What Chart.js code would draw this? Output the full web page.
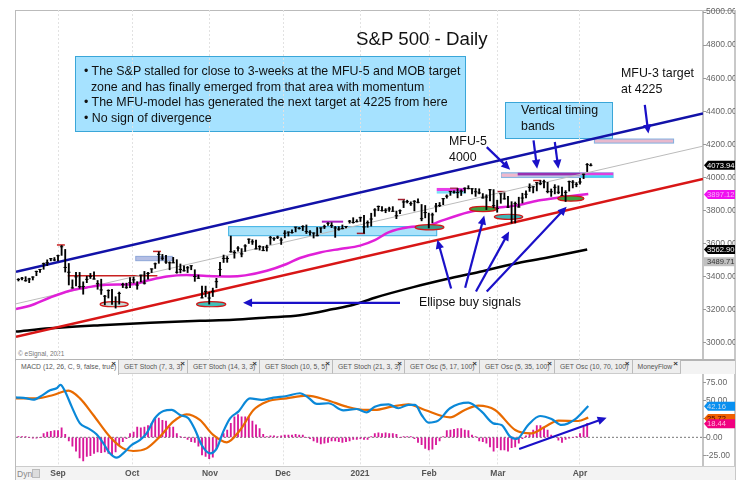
<!DOCTYPE html>
<html><head><meta charset="utf-8">
<script src="https://cdn.jsdelivr.net/npm/chart.js@4"></script>
<style>
html,body{margin:0;padding:0;background:#fff;width:751px;height:494px;overflow:hidden;font-family:"Liberation Sans",Arial,sans-serif}
#stage{position:relative;width:751px;height:494px}
.a{position:absolute;white-space:nowrap}
canvas{position:absolute;left:0;z-index:5}
.note{color:#111;font-size:12.4px;line-height:15.6px;z-index:6}
.box{position:absolute;background:#a6e2ff;border:1px solid #3aa6d8;box-sizing:border-box}
.tab{position:absolute;top:360px;height:14px;background:#eee;border-right:1px solid #bbb;border-bottom:1px solid #ccc;box-sizing:border-box;font-size:6.8px;color:#555;line-height:14px;padding-left:5px;white-space:nowrap;overflow:hidden}
.tab b{position:absolute;right:2px;top:-3px;font-size:8px;color:#333}
</style></head><body><div id="stage">
<div class="a" style="left:15px;top:10px;width:720px;height:470px;border:1px solid #bbb;box-sizing:border-box"></div>
<div class="a" style="left:702px;top:10px;width:2px;height:456px;background:#c4c4c4"></div>
<div class="a" style="left:734px;top:10px;width:2px;height:470px;background:#c8c8c8"></div>
<div class="a" style="left:15px;top:359px;width:720px;height:2px;background:#b4b4b4"></div>
<div class="a" style="left:16px;top:466px;width:719px;height:14px;background:#f3f3f3;border-top:1px solid #ccc;box-sizing:border-box"></div>
<div class="a" style="left:16px;top:361px;width:719px;height:13px;background:#f3f3f3"></div>
<div id="tabs"></div>
<div class="a" style="left:17px;top:469px;font-size:8.5px;color:#888">Dyn</div>
<div class="a" style="left:32px;top:469px;width:8px;height:9px;background:#ddd;border:1px solid #bbb;box-sizing:border-box"></div>
<div class="a" style="left:18px;top:350px;font-size:6.5px;color:#777">© eSignal, 2021</div>
<div class="a note" style="left:356px;top:28px;font-size:18.7px;line-height:normal">S&amp;P 500 - Daily</div>
<div class="box" style="left:75px;top:56px;width:391px;height:76px"></div>
<div class="a note" style="left:84px;top:64px">• The S&amp;P stalled for close to 3-weeks at the MFU-5 and MOB target<br>&nbsp;&nbsp;zone and has finally emerged from that area with momentum<br>• The MFU-model has generated the next target at 4225 from here<br>• No sign of divergence</div>
<div class="box" style="left:505px;top:102px;width:108px;height:37px"></div>
<div class="a note" style="left:521px;top:103px">Vertical timing<br>bands</div>
<div class="a note" style="left:449px;top:134px">MFU-5<br>4000</div>
<div class="a note" style="left:621px;top:66px">MFU-3 target<br>at 4225</div>
<div class="a note" style="left:419px;top:295px">Ellipse buy signals</div>
<canvas id="main" width="751" height="365" style="top:0"></canvas>
<canvas id="osc" width="751" height="134" style="top:360px"></canvas>
</div>
<script>
// ---- axes
const monthSessions=[12,32.6,54.2,74.5,95.9,115.1,134.2,157];
const monthLabels=['Sep','Oct','Nov','Dec','2021','Feb','Mar','Apr'];
const priceTicks=[3000,3200,3400,3600,3800,4000,4200,4400,4600,4800,5000];
const oscTicks=[-25,0,25,50,75];
// ---- daily price bars, one per session starting at session 1
const lows=[3373,3379,3371,3363,3379,3405,3425,3444,3466,3495,3495,3494,3528,3427,3349,3329,3343,3329,3293,3363,3388,3384,3323,3292,3229,3270,3232,3209,3233,3333,3328,3332,3361,3323,3367,3354,3384,3424,3449,3480,3500,3480,3441,3483,3420,3422,3433,3424,3441,3371,3388,3270,3277,3233,3279,3332,3405,3485,3486,3547,3511,3553,3519,3552,3600,3594,3567,3560,3556,3554,3594,3619,3629,3594,3634,3645,3662,3670,3687,3678,3660,3650,3633,3646,3666,3690,3710,3696,3637,3680,3688,3694,3723,3723,3730,3733,3663,3698,3705,3764,3798,3795,3786,3794,3794,3750,3780,3817,3845,3830,3797,3845,3737,3755,3694,3725,3791,3823,3835,3874,3891,3905,3876,3890,3906,3930,3900,3885,3900,3874,3805,3858,3815,3789,3843,3868,3817,3723,3724,3819,3845,3876,3915,3906,3918,3955,3936,3906,3885,3900,3901,3889,3854,3917,3936,3943,3959,3992,4035,4069];
const highs=[3388,3395,3399,3390,3399,3433,3444,3482,3501,3510,3515,3530,3588,3564,3479,3380,3425,3425,3368,3402,3419,3429,3376,3384,3286,3320,3323,3278,3306,3360,3360,3393,3397,3369,3409,3431,3426,3447,3482,3550,3534,3528,3489,3516,3502,3476,3465,3461,3466,3441,3409,3342,3342,3305,3330,3389,3486,3530,3521,3645,3557,3581,3569,3593,3628,3623,3620,3587,3582,3590,3643,3635,3645,3634,3678,3670,3683,3699,3697,3708,3712,3678,3665,3697,3695,3711,3726,3726,3703,3702,3712,3703,3740,3756,3744,3760,3770,3737,3783,3811,3827,3824,3811,3820,3823,3796,3804,3860,3862,3852,3860,3870,3836,3830,3784,3784,3843,3848,3872,3894,3916,3918,3932,3925,3937,3950,3932,3933,3931,3902,3895,3928,3926,3862,3901,3906,3886,3853,3851,3880,3904,3918,3961,3944,3969,3981,3984,3970,3930,3956,3949,3942,3920,3978,3981,3969,3994,4020,4084,4083];
const closes=[3382,3390,3375,3385,3397,3431,3443,3478,3484,3508,3500,3526,3580,3455,3426,3331,3398,3339,3340,3383,3401,3385,3357,3319,3281,3315,3236,3246,3298,3351,3335,3363,3380,3348,3408,3360,3419,3446,3477,3534,3511,3488,3483,3483,3426,3443,3435,3453,3465,3400,3390,3271,3310,3270,3310,3369,3443,3510,3509,3550,3545,3572,3537,3585,3626,3610,3567,3582,3557,3577,3635,3629,3638,3621,3662,3669,3666,3699,3692,3702,3672,3668,3663,3647,3694,3701,3722,3709,3694,3687,3690,3703,3735,3727,3732,3756,3700,3726,3748,3803,3824,3799,3801,3809,3795,3768,3798,3851,3853,3841,3855,3849,3750,3787,3714,3773,3826,3830,3871,3886,3915,3911,3909,3916,3934,3932,3931,3913,3906,3876,3881,3925,3829,3811,3901,3870,3820,3768,3841,3821,3875,3898,3939,3943,3968,3962,3974,3915,3913,3940,3910,3889,3909,3974,3971,3958,3972,4019,4077,4073];
// ---- moving averages
const magentaAt=[0.33,4.2,9.8,15.3,20,25.5,32.9,36.6,42.2,47.8,53.3,59.8,64,70,75.5,79.2,84.8,90.3,95.9,100,103.8,109.3,114.9,118.6,126,133.4,139,145.4,151.9,159.3];
const magentaMA=[3203,3223,3273,3314,3334,3350,3354,3374,3400,3409,3403,3400,3407,3435,3476,3512,3546,3567,3587,3620,3667,3698,3708,3738,3789,3815,3829,3860,3880,3900];
const blackAt=[0.33,9.8,23.7,37.6,51.4,60.7,70,79.2,88.5,94.1,100,110.7,120,129.2,138.5,147.7,159];
const blackMA=[3067,3087,3106,3121,3132,3138,3152,3166,3203,3229,3272,3336,3385,3429,3476,3514,3564];
// ---- channel lines (session, price at each end)
const channelEnds=[0.33,191.17];
const blueChannel=[3429,4386];
const redChannel=[3035,3991];
const grayChannel=[3235,4189];
// ---- MACD pane
const macdAt=[0.33,3.3,5.1,7.5,9.8,11.6,12.7,13.9,15.8,18.1,20.4,22.7,24.6,26.4,28.3,30.1,32.5,34.8,36.6,38.9,41.3,43.6,45.9,48.2,50.1,51.9,54.2,56.1,57.9,59.8,62.1,65.3,68.6,71.8,75.5,79.2,81.5,83.9,87.1,91.3,95,97.7,100,103.8,106.5,109.3,111.2,113,114.9,117.6,120.9,126,129.7,132.9,135.2,137.6,139.4,142.6,145.9,149.1,151.9,155.6,159.3];
const macdLine=[54.4,53,51.2,56.7,63.9,66.7,71.2,63,41.7,19,12.2,4.1,-8.2,-21.8,-27.7,-21.8,-10.4,-3.6,5.4,25.9,35.8,37.2,30.4,25.9,10,-10.4,-21.8,-15,7.7,25.9,34.9,53,50.8,54,56.2,59.9,54,45.4,46.3,36.7,38.5,34,41.7,44.9,39.5,44,44,30.4,20,22.7,39.5,47.2,34.9,19,16.8,0.9,-2.3,16.8,29,24.9,16.8,24.5,42.6];
const signalAt=[0.33,6.1,10.7,14.9,18.1,21.8,26.4,30.1,32.9,36.6,40.3,44,47.7,51.4,55.1,58.9,62.6,66.3,70,75.5,81.1,86.6,92.2,97.7,100,104.7,109.3,113.9,120.9,125,128.8,133.4,139,143.5,147.3,151,156.5,159.3];
const signalLine=[53,53,57.6,63.5,53,30.4,0.9,-15,-18.6,-15,0.9,21.3,31.3,23.6,3.2,-6.8,10,37.2,48.5,53,56.7,50.8,41.7,37.2,37.2,41.7,44.9,37.2,27.2,37.2,43.1,37.2,10,5.4,14.5,22.7,22.2,26.8];
const histogram=[1,1,1,0,-1,-1,0,5,7,8,9,9,13,4,-5,-12,-19,-28,-32,-26,-25,-22,-20,-21,-20,-22,-24,-20,-10,-6,-2,5,7,14,13,14,16,19,25,26,23,22,14,14,5,1,0,-3,-6,-7,-12,-24,-26,-29,-27,-15,-3,5,10,19,28,31,28,28,28,22,17,12,4,1,2,2,1,2,3,3,3,4,3,3,0,-2,-5,-7,-9,-8,-7,-5,-5,-6,-7,-6,-5,-3,-3,-2,-3,-3,1,5,6,5,6,5,5,4,0,1,1,1,-2,-7,-10,-15,-17,-16,-10,-5,1,9,10,11,12,12,10,9,3,1,-5,-6,-8,-13,-19,-14,-17,-17,-19,-14,-13,-8,-2,2,5,10,16,16,13,10,3,1,-4,-7,-3,-1,0,1,5,14,19];
// ---- annotations: [session from, session to, price top, price bottom, fill, stroke]
const zones=[
 [59.4,117.2,3702,3647,'#a8e2fa','#3cb0e4'],
 [33.6,43.75,3522,3496,'#b4bee4','#8ea6d8'],
 [117.2,125.3,3936,3917,'#e83ce8',null],
 [117.2,125.3,3917,3902,'#7adcf8',null],
 [135.2,166.2,4028,3999,'#b8c4e4','#86b4e0'],
 [135.2,139.7,4022,4004,'#f0b8cc',null],
 [139.7,157,4028,4012,'#9a30b0',null],
 [157,166.2,4028,4012,'#e040e0',null],
 [157,166.2,4012,3999,'#40d8f8',null],
 [161,183,4232,4207.5,'#e8b8cc','#80b0e0']
];
// [session from, session to, price, colour, width]
const levels=[
 [14.7,39.6,3405,'#c82020',1.5],[85.3,91.2,3732,'#a820c0',2],
 [11.7,13.9,3591,'#c82020',1.5],[38.4,40.6,3552,'#c82020',1.5],[95,97.3,3661,'#a02030',1.5],
 [106.4,108.4,3866,'#a02030',1.5],[120.9,123.1,3934,'#b03060',1.5],[134.1,136.3,3914,'#a02030',1.5],[144,146.2,3981,'#c82020',1.5]
];
// [session from, session to, price, fill]
const ellipses=[
 [23.7,31.5,3233,'#c8dcd8'],[50.5,58.6,3233,'#40c0b8'],[111.2,119.2,3698,'#3c9c8c'],
 [126.3,133.8,3809,'#40a040'],[133.2,141.1,3761,'#40b8b8'],[150.8,158.1,3872,'#40a040']
];
// [session from, value from, session to, value to]
const priceArrows=[
 [107,3241,63.4,3241],[175,4438,176,4265],[144.1,4224,145.1,4052],[150,4214,151,4052],[131.1,4183,137.6,4046],
 [121.2,3328,117.4,3623],[125.1,3332,130.4,3769],[128.1,3309,137.3,3672],[131.1,3309,153.3,3823]
];
const oscArrows=[[140.1,-15.9,164.4,26.7]];
const priceTags=[[4073.94,'4073.94','#000','#fff',1],[3897.12,'3897.12','#f010f0','#f8b0f8',1],[3562.90,'3562.90','#000','#fff',1],[3489.71,'3489.71','#c0c0c0','#333',0]];
const oscTags=[[42.16,'42.16','#0a90f0','#cde',1],[25.72,'25.72','#f06000','#400',1],[18.44,'18.44','#f00080','#fbd',1]];
const tabNames=[['MACD (12, 26, C, 9, false, true)',16,119],['GET Stoch (7, 3, 3)',119,188],['GET Stoch (14, 3, 3)',188,260],['GET Stoch (10, 5, 5)',260,333],['GET Stoch (21, 3, 3)',333,405],['GET Osc (5, 17, 100)',405,480],['GET Osc (5, 35, 100)',480,555],['GET Osc (10, 70, 100)',555,632.5],['MoneyFlow',632.5,681]];

tabNames.forEach((t,i)=>{const d=document.createElement('div');d.className='tab';d.style.left=t[1]+'px';d.style.width=(t[2]-t[1])+'px';
 if(i===0){d.style.background='#fff';d.style.borderBottom='none';d.style.height='15px';}
 d.textContent=t[0];const b=document.createElement('b');b.textContent='×';d.appendChild(b);document.getElementById('tabs').appendChild(d);});

const zip=(xs,ys)=>xs.map((x,i)=>({x,y:ys[i]}));
const sessions=closes.map((_,i)=>i+1);
const XMIN=0.33,XMAX=191.17;

function arrowHead(ctx,x0,y0,x1,y1,c){
 const a=Math.atan2(y1-y0,x1-x0),L=9,W=4.2;
 ctx.strokeStyle=c;ctx.lineWidth=2.2;ctx.beginPath();ctx.moveTo(x0,y0);ctx.lineTo(x1-Math.cos(a)*L*.7,y1-Math.sin(a)*L*.7);ctx.stroke();
 ctx.fillStyle=c;ctx.beginPath();ctx.moveTo(x1,y1);
 ctx.lineTo(x1-Math.cos(a)*L+Math.sin(a)*W,y1-Math.sin(a)*L-Math.cos(a)*W);
 ctx.lineTo(x1-Math.cos(a)*L-Math.sin(a)*W,y1-Math.sin(a)*L+Math.cos(a)*W);ctx.closePath();ctx.fill();
}
function drawTags(chart,tags){
 const {ctx,scales:{y}}=chart,L=704,R=735;
 ctx.save();ctx.font='7.6px "Liberation Sans"';ctx.textBaseline='middle';ctx.textAlign='left';
 tags.forEach(t=>{const py=y.getPixelForValue(t[0]);ctx.fillStyle=t[2];ctx.beginPath();
  ctx.moveTo(R,py-4.5);ctx.lineTo(L+(t[4]?4:0),py-4.5);ctx.lineTo(L,py);ctx.lineTo(L+(t[4]?4:0),py+4.5);ctx.lineTo(R,py+4.5);ctx.closePath();ctx.fill();
  ctx.fillStyle=t[3];ctx.fillText(t[1],707,py+.5);});
 ctx.restore();
}
const mainDecor={id:'mainDecor',
 beforeDatasetsDraw(c){const {ctx,scales:{x,y}}=c;ctx.save();
  zones.forEach(z=>{const l=x.getPixelForValue(z[0]),r=x.getPixelForValue(z[1]),t=y.getPixelForValue(z[2]),b=y.getPixelForValue(z[3]);
   ctx.fillStyle=z[4];ctx.fillRect(l,t,r-l,b-t);if(z[5]){ctx.strokeStyle=z[5];ctx.lineWidth=1;ctx.strokeRect(l,t,r-l,b-t);}});
  levels.forEach(v=>{const py=y.getPixelForValue(v[2]);ctx.strokeStyle=v[3];ctx.lineWidth=v[4];ctx.beginPath();ctx.moveTo(x.getPixelForValue(v[0]),py);ctx.lineTo(x.getPixelForValue(v[1]),py);ctx.stroke();});
  ctx.restore();},
 beforeDatasetDraw(c,args){if(args.index!==0)return;const {ctx,scales:{x,y}}=c;ctx.save();
  ellipses.forEach(e=>{const l=x.getPixelForValue(e[0]),r=x.getPixelForValue(e[1]),py=y.getPixelForValue(e[2]);
   ctx.beginPath();ctx.ellipse((l+r)/2,py,(r-l)/2,2.6,0,0,7);ctx.fillStyle=e[3];ctx.fill();ctx.strokeStyle='#d01818';ctx.lineWidth=1.2;ctx.stroke();});
  ctx.restore();},
 afterDatasetsDraw(c){const {ctx,scales:{x,y}}=c;ctx.save();
  priceArrows.forEach(a=>arrowHead(ctx,x.getPixelForValue(a[0]),y.getPixelForValue(a[1]),x.getPixelForValue(a[2]),y.getPixelForValue(a[3]),'#1a10c8'));
  ctx.restore();drawTags(c,priceTags);}
};
const oscDecor={id:'oscDecor',afterDatasetsDraw(c){const {ctx,scales:{x,y}}=c;ctx.save();
  oscArrows.forEach(a=>arrowHead(ctx,x.getPixelForValue(a[0]),y.getPixelForValue(a[1]),x.getPixelForValue(a[2]),y.getPixelForValue(a[3]),'#1a10c8'));
  ctx.restore();drawTags(c,oscTags);}};

const lineDs=(data,color,width,order,extra)=>Object.assign({type:'line',data,borderColor:color,borderWidth:width,pointRadius:0,cubicInterpolationMode:'monotone',order,fill:false},extra||{});
const straight={cubicInterpolationMode:'default',tension:0};
const xAxis=(extra)=>Object.assign({type:'linear',min:XMIN,max:XMAX,offset:false,
  afterBuildTicks:s=>{s.ticks=monthSessions.map(v=>({value:v}));},
  grid:{color:'#e2e2e2',drawTicks:false,offset:false},border:{display:false,dash:[2,2]}},extra);
const yAxis=(min,max,ticks)=>({position:'right',min,max,
  afterBuildTicks:s=>{s.ticks=ticks.map(v=>({value:v}));},afterFit:s=>{s.width=32;s.paddingTop=0;s.paddingBottom=0;},
  grid:{drawOnChartArea:false,tickLength:3,color:'#999'},border:{display:false},
  ticks:{padding:0,color:'#666',autoSkip:false,font:{family:'Liberation Sans',size:8.5},callback:v=>v.toFixed(2)}});
const base={responsive:false,animation:false,events:[],plugins:{legend:{display:false},tooltip:{enabled:false},title:{display:false}}};

new Chart(document.getElementById('main'),{type:'bar',
 data:{datasets:[
  {type:'bar',data:sessions.map((s,i)=>({x:s,y:[lows[i],highs[i]]})),backgroundColor:'#000',barThickness:1.2,order:0},
  {type:'line',data:zip(sessions,closes),showLine:false,pointStyle:'line',pointRadius:1.7,pointBorderWidth:1,pointBorderColor:'#000',order:0},
  lineDs(zip(channelEnds,grayChannel),'#bbbbbb',1,5,straight),
  lineDs(zip(channelEnds,blueChannel),'#1212a8',2.5,1,straight),
  lineDs(zip(channelEnds,redChannel),'#d81616',2.5,2,straight),
  lineDs(zip(blackAt,blackMA),'#000000',2.5,3),
  lineDs(zip(magentaAt,magentaMA),'#e020d8',2.5,4)
 ]},
 options:Object.assign({},base,{layout:{padding:{left:16,right:16,top:10,bottom:1}},
  scales:{x:xAxis({ticks:{display:false},afterFit:s=>{s.height=0;}}),y:yAxis(2895,5012.7,priceTicks)}}),
 plugins:[mainDecor]});

new Chart(document.getElementById('osc'),{type:'bar',
 data:{datasets:[
  {type:'bar',data:zip(sessions,histogram),backgroundColor:'#d8189a',barThickness:1.2,order:3},
  lineDs(zip(channelEnds,[0,0]),'#777777',1,4,Object.assign({borderDash:[2,2]},straight)),
  lineDs(zip(signalAt,signalLine),'#e86a00',2.2,2),
  lineDs(zip(macdAt,macdLine),'#0a88d8',2.2,1)
 ]},
 options:Object.assign({},base,{layout:{padding:{left:16,right:16,top:14.3,bottom:14}},
  scales:{x:xAxis({afterFit:s=>{s.height=14;},ticks:{autoSkip:false,maxRotation:0,padding:3,color:'#555',font:{family:'Liberation Sans',size:8.5,weight:'bold'},callback:(v,i)=>monthLabels[i]}}),
   y:yAxis(-39,85.7,oscTicks)}}),
 plugins:[oscDecor]});
</script></body></html>
